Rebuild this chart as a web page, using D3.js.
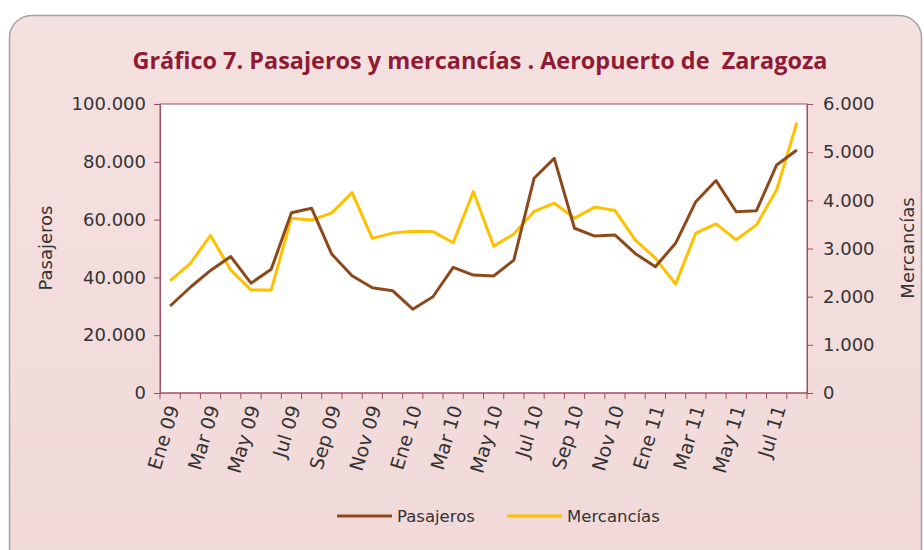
<!DOCTYPE html>
<html>
<head>
<meta charset="utf-8">
<script src="https://cdn.jsdelivr.net/npm/d3@7"></script>
<style>
  body { margin: 0; background: #fff; }
  svg { display: block; }
  .tick text { font-family: "DejaVu Sans", Verdana, sans-serif; fill: #333; }
</style>
</head>
<body>
<div id="chart"></div>
<script>
const meses = ["Ene 09","Feb 09","Mar 09","Abr 09","May 09","Jun 09","Jul 09","Ago 09","Sep 09","Oct 09","Nov 09","Dic 09",
               "Ene 10","Feb 10","Mar 10","Abr 10","May 10","Jun 10","Jul 10","Ago 10","Sep 10","Oct 10","Nov 10","Dic 10",
               "Ene 11","Feb 11","Mar 11","Abr 11","May 11","Jun 11","Jul 11","Ago 11"];
const pasajeros = [30100, 36600, 42400, 47200, 38000, 42800, 62400, 63900, 48000, 40600, 36400, 35400,
                   29000, 33300, 43500, 40800, 40500, 46000, 74300, 81200, 57000, 54300, 54700, 48300,
                   43700, 51800, 66200, 73500, 62700, 63100, 78900, 84100];
const mercancias = [2330, 2690, 3270, 2550, 2140, 2140, 3630, 3590, 3740, 4160, 3210, 3320,
                    3360, 3350, 3120, 4180, 3050, 3300, 3770, 3940, 3630, 3860, 3790, 3180,
                    2800, 2260, 3320, 3510, 3180, 3490, 4220, 5610];
const ticksPas = [0, 20000, 40000, 60000, 80000, 100000];
const ticksMer = [0, 1000, 2000, 3000, 4000, 5000, 6000];

const W = 924, H = 550;
const plot = {left: 160, right: 807, top: 104, bottom: 393};
const colorPas = "#8c4a1c", colorMer = "#ffc000", axisColor = "#9e4f63";
const fmt = d3.format(",.0f");
const miles = d => fmt(d).replace(/,/g, ".");

const svg = d3.select("#chart").append("svg")
    .attr("width", W)
    .attr("height", H);

const defs = svg.append("defs");
const grad = defs.append("linearGradient")
    .attr("id", "bg").attr("x1", 0).attr("y1", 0).attr("x2", 0).attr("y2", 1);
grad.append("stop").attr("offset", "0%").attr("stop-color", "#f5e0e0");
grad.append("stop").attr("offset", "100%").attr("stop-color", "#f1d9d9");

// outer frame
svg.append("rect")
    .attr("x", 9.5).attr("y", 15.5)
    .attr("width", 912).attr("height", 560)
    .attr("rx", 22).attr("ry", 22)
    .attr("fill", "url(#bg)")
    .attr("stroke", "#a3a3a3")
    .attr("stroke-width", 1.5);

svg.append("text")
    .attr("x", 480).attr("y", 69)
    .attr("text-anchor", "middle")
    .attr("font-family", "'Open Sans', sans-serif")
    .attr("font-weight", "bold")
    .attr("font-size", 23)
    .attr("textLength", 695)
    .attr("lengthAdjust", "spacingAndGlyphs")
    .attr("fill", "#8e1b33")
    .text("Gráfico 7. Pasajeros y mercancías . Aeropuerto de\u00a0 Zaragoza");

const x = d3.scaleBand()
    .domain(meses)
    .range([plot.left, plot.right]);
const yPas = d3.scaleLinear().domain([0, 100000]).range([plot.bottom, plot.top]);
const yMer = d3.scaleLinear().domain([0, 6000]).range([plot.bottom, plot.top]);
const cx = d => x(d) + x.bandwidth() / 2;

// plot area
svg.append("rect")
    .attr("x", plot.left).attr("y", plot.top)
    .attr("width", plot.right - plot.left)
    .attr("height", plot.bottom - plot.top)
    .attr("fill", "#fff")
    .attr("stroke", axisColor)
    .attr("stroke-width", 1);

// left axis
const gLeft = svg.append("g")
    .attr("transform", `translate(${plot.left},0)`)
    .call(d3.axisLeft(yPas).tickValues(ticksPas).tickFormat(miles).tickSizeOuter(0).tickSize(6).tickPadding(8));
// right axis
const gRight = svg.append("g")
    .attr("transform", `translate(${plot.right},0)`)
    .call(d3.axisRight(yMer).tickValues(ticksMer).tickFormat(miles).tickSizeOuter(0).tickSize(6).tickPadding(10));
[gLeft, gRight].forEach(g => {
    g.selectAll("line, path").attr("stroke", axisColor);
    g.selectAll("text").attr("font-size", 18).attr("fill", "#333");
});

// bottom axis: ticks at category boundaries, labels every other month
const gBottom = svg.append("g").attr("transform", `translate(0,${plot.bottom})`);
gBottom.append("line")
    .attr("x1", plot.left).attr("x2", plot.right)
    .attr("stroke", axisColor);
gBottom.selectAll("line.tk")
    .data(meses.concat(["fin"]))
    .join("line")
    .attr("class", "tk")
    .attr("x1", (d, i) => plot.left + i * x.bandwidth())
    .attr("x2", (d, i) => plot.left + i * x.bandwidth())
    .attr("y1", 0).attr("y2", 6)
    .attr("stroke", axisColor);
gBottom.selectAll("text")
    .data(meses.filter((d, i) => i % 2 === 0))
    .join("text")
    .attr("transform", d => `translate(${cx(d) + 3},${13}) rotate(-73)`)
    .attr("text-anchor", "end")
    .attr("dy", "0.35em")
    .attr("font-family", "'DejaVu Sans', Verdana, sans-serif")
    .attr("font-size", 19)
    .attr("fill", "#333")
    .text(d => d);

// axis titles
svg.append("text")
    .attr("transform", "translate(52,248) rotate(-90)")
    .attr("text-anchor", "middle")
    .attr("font-family", "'DejaVu Sans', Verdana, sans-serif")
    .attr("font-size", 18).attr("fill", "#333")
    .text("Pasajeros");
svg.append("text")
    .attr("transform", "translate(914,248) rotate(-90)")
    .attr("text-anchor", "middle")
    .attr("font-family", "'DejaVu Sans', Verdana, sans-serif")
    .attr("font-size", 18).attr("fill", "#333")
    .text("Mercancías");

// lines
svg.append("path")
    .datum(mercancias)
    .attr("fill", "none")
    .attr("stroke", colorMer)
    .attr("stroke-width", 3)
    .attr("stroke-linejoin", "round")
    .attr("d", d3.line().x((d, i) => cx(meses[i])).y(d => yMer(d)));
svg.append("path")
    .datum(pasajeros)
    .attr("fill", "none")
    .attr("stroke", colorPas)
    .attr("stroke-width", 3)
    .attr("stroke-linejoin", "round")
    .attr("d", d3.line().x((d, i) => cx(meses[i])).y(d => yPas(d)));

// legend
const legend = [
    {name: "Pasajeros", color: colorPas, x: 337},
    {name: "Mercancías", color: colorMer, x: 507}
];
const lg = svg.selectAll("g.legend")
    .data(legend)
    .join("g")
    .attr("class", "legend")
    .attr("transform", d => `translate(${d.x},516)`);
lg.append("line")
    .attr("x1", 0).attr("x2", 55)
    .attr("stroke", d => d.color)
    .attr("stroke-width", 3);
lg.append("text")
    .attr("x", 60)
    .attr("dy", "0.35em")
    .attr("font-family", "'DejaVu Sans', Verdana, sans-serif")
    .attr("font-size", 16.5)
    .attr("fill", "#333")
    .text(d => d.name);
</script>
</body>
</html>
